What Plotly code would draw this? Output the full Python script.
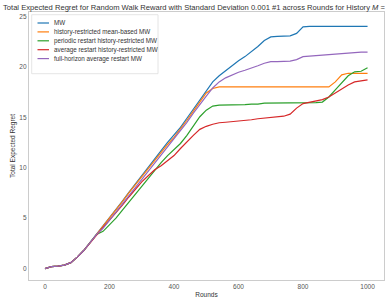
import plotly.graph_objects as go

ROUNDS = list(range(0, 1001, 20))

COMMON = [0.0, 0.2, 0.25, 0.35, 0.6, 1.15, 1.8, 2.6, 3.4]  # rounds 0..160

MW_TAIL = [4.2, 5.0, 5.85, 6.7, 7.55, 8.4, 9.2, 10.0, 10.9, 11.7, 12.5, 13.2, 14.0, 14.9,
           15.8, 16.7, 17.6, 18.5, 19.1, 19.6, 20.1, 20.6, 21.0, 21.5, 22.0, 22.6, 22.95,
           23.0, 23.0, 23.05, 23.3, 23.95, 24.0, 24.0, 24.0, 24.0, 24.0, 24.0, 24.0, 24.0,
           24.0, 24.0]
HRMB_TAIL = [4.15, 4.95, 5.8, 6.65, 7.5, 8.3, 9.1, 9.9, 10.75, 11.55, 12.3, 13.0, 13.8, 14.7,
             15.6, 16.5, 17.4, 17.85, 18.0, 18.0, 18.0, 18.0, 18.0, 18.0, 18.0, 18.0, 18.0,
             18.0, 18.0, 18.0, 18.0, 18.0, 18.0, 18.0, 18.0, 18.0, 18.5, 19.2, 19.35, 19.35,
             19.35, 19.35]
PERIODIC_TAIL = [3.7, 4.3, 5.0, 5.8, 6.6, 7.4, 8.2, 9.0, 9.8, 10.5, 11.2, 11.8, 12.4, 13.2,
                 14.1, 15.05, 15.7, 16.1, 16.2, 16.2, 16.2, 16.25, 16.25, 16.3, 16.3, 16.4,
                 16.4, 16.4, 16.4, 16.4, 16.4, 16.4, 16.45, 16.45, 16.5, 17.0, 17.7, 18.4,
                 19.1, 19.5, 19.55, 19.9]
AVG_TAIL = [4.1, 4.8, 5.5, 6.3, 7.1, 7.9, 8.6, 9.2, 9.8, 10.2, 10.7, 11.2, 11.9, 12.6, 13.2,
            13.8, 14.1, 14.3, 14.45, 14.5, 14.55, 14.6, 14.7, 14.75, 14.85, 14.9, 15.0, 15.05,
            15.1, 15.3, 15.9, 16.35, 16.5, 16.6, 16.75, 17.0, 17.4, 17.8, 18.2, 18.5, 18.6,
            18.7]
FULL_TAIL = [4.0, 4.8, 5.6, 6.45, 7.3, 8.1, 8.9, 9.7, 10.5, 11.3, 12.05, 12.8, 13.6, 14.5,
             15.4, 16.3, 17.1, 17.9, 18.5, 18.9, 19.2, 19.45, 19.65, 19.85, 20.1, 20.35, 20.5,
             20.5, 20.55, 20.55, 20.7, 21.0, 21.05, 21.1, 21.15, 21.2, 21.25, 21.3, 21.4,
             21.45, 21.45, 21.45]

NAMES = ["MW", "history-restricted mean-based MW", "periodic restart history-restricted MW",
         "average restart history-restricted MW", "full-horizon average restart MW"]
VALUES = [COMMON + MW_TAIL, COMMON + HRMB_TAIL, COMMON + PERIODIC_TAIL,
          COMMON + AVG_TAIL, COMMON + FULL_TAIL]
COLORS = ["#1f77b4", "#ff7f0e", "#2ca02c", "#d62728", "#9467bd"]

X_TICKS = [0, 200, 400, 600, 800, 1000]
Y_TICKS = [0, 5, 10, 15, 20, 25]

TITLE = ("Total Expected Regret for Random Walk Reward with Standard Deviation 0.001 #1 "
         "across Rounds for History <i>M</i> =")

W, H = 385, 306
ML, MR, MT, MB = 29, 1, 12, 26
PW, PH = W - ML - MR, H - MT - MB


def px_x(p):
    return (p - ML) / PW


def px_y(p):
    return (H - MB - p) / PH


fig = go.Figure()
for name, vals, color in zip(NAMES, VALUES, COLORS):
    fig.add_trace(go.Scatter(x=ROUNDS, y=vals, mode="lines", name=name,
                             line=dict(color=color, width=1.2)))

FONT = "Liberation Sans, Arial, sans-serif"

# manual legend (matplotlib-like compact layout)
shapes = [dict(type="rect", xref="paper", yref="paper",
               x0=px_x(31.7), x1=px_x(158), y0=px_y(73.7), y1=px_y(14.7),
               line=dict(color="#dddddd", width=0.8), fillcolor="rgba(255,255,255,0.8)",
               layer="above")]
annotations = []
for i, (name, color) in enumerate(zip(NAMES, COLORS)):
    yy = 23 + i * 8.9
    shapes.append(dict(type="line", xref="paper", yref="paper",
                       x0=px_x(37.5), x1=px_x(49), y0=px_y(yy), y1=px_y(yy),
                       line=dict(color=color, width=1.2), layer="above"))
    annotations.append(dict(text=name, xref="paper", yref="paper", x=px_x(51.5), y=px_y(yy),
                            xanchor="left", yanchor="middle", showarrow=False,
                            font=dict(size=6.3, color="#333333", family=FONT)))

fig.update_layout(
    width=W, height=H,
    margin=dict(l=ML, r=MR, t=MT, b=MB),
    paper_bgcolor="white", plot_bgcolor="white",
    font=dict(family=FONT, size=7, color="#262626"),
    title=dict(text=TITLE, x=3 / W, xref="container", xanchor="left",
               y=1 - 7 / H, yref="container", yanchor="middle",
               font=dict(size=7.6, color="#333333", family=FONT, weight="normal")),
    showlegend=False,
    shapes=shapes, annotations=annotations,
    xaxis=dict(range=[-49.6, 1051], tickvals=X_TICKS, showgrid=False, zeroline=False,
               showline=True, linecolor="#cccccc", linewidth=1.2, mirror=True,
               ticks="", tickfont=dict(size=6.5, color="#555555"),
               title=dict(text="Rounds", font=dict(size=6.5, color="#333333"), standoff=3)),
    yaxis=dict(range=[-1.12, 25.42], tickvals=Y_TICKS, showgrid=False, zeroline=False,
               showline=True, linecolor="#cccccc", linewidth=1.2, mirror=True,
               ticks="", tickfont=dict(size=6.5, color="#555555"),
               title=dict(text="Total Expected Regret", font=dict(size=6.5, color="#333333"),
                          standoff=3)),
)

fig.write_html("out.html", config={"displayModeBar": False},
               post_script="document.body.style.margin='0';")
